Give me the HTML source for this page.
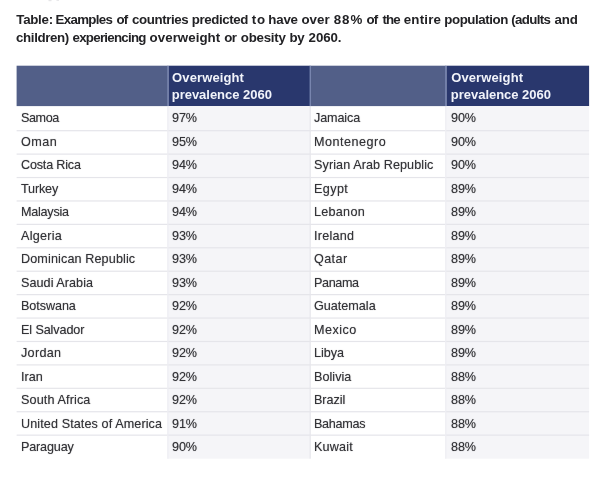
<!DOCTYPE html><html><head><meta charset="utf-8"><title>Table</title><style>
html,body{margin:0;padding:0;background:#fff;}
body{width:614px;height:489px;position:relative;overflow:hidden;font-family:"Liberation Sans",sans-serif;color:#333337;}
svg.bg{position:absolute;left:0;top:0;}
.t{position:absolute;white-space:nowrap;line-height:1;transform-origin:0 0;}
.title{font-weight:bold;font-size:13.3px;color:#222225;}
.h{font-weight:bold;font-size:13.0px;color:#f1f3fa;}
.c{font-size:13.5px;color:#333337;text-shadow:0 0 1px rgba(51,51,55,.55);transform:scaleX(0.934);}
</style></head><body>
<svg class="bg" width="614" height="489" viewBox="0 0 614 489"><rect x="16.60" y="65.70" width="152.10" height="40.40" fill="#525f88"/><rect x="168.70" y="65.70" width="141.50" height="40.40" fill="#29376d"/><rect x="310.20" y="65.70" width="136.40" height="40.40" fill="#525f88"/><rect x="446.60" y="65.70" width="142.50" height="40.40" fill="#29376d"/><rect x="167.30" y="106.10" width="142.90" height="352.58" fill="#f5f5f8"/><rect x="445.20" y="106.10" width="143.90" height="352.58" fill="#f5f5f8"/><rect x="16.60" y="130.10" width="572.50" height="1.20" fill="#e5e5ea"/><rect x="16.60" y="153.52" width="572.50" height="1.20" fill="#e5e5ea"/><rect x="16.60" y="176.94" width="572.50" height="1.20" fill="#e5e5ea"/><rect x="16.60" y="200.36" width="572.50" height="1.20" fill="#e5e5ea"/><rect x="16.60" y="223.78" width="572.50" height="1.20" fill="#e5e5ea"/><rect x="16.60" y="247.20" width="572.50" height="1.20" fill="#e5e5ea"/><rect x="16.60" y="270.62" width="572.50" height="1.20" fill="#e5e5ea"/><rect x="16.60" y="294.04" width="572.50" height="1.20" fill="#e5e5ea"/><rect x="16.60" y="317.46" width="572.50" height="1.20" fill="#e5e5ea"/><rect x="16.60" y="340.88" width="572.50" height="1.20" fill="#e5e5ea"/><rect x="16.60" y="364.30" width="572.50" height="1.20" fill="#e5e5ea"/><rect x="16.60" y="387.72" width="572.50" height="1.20" fill="#e5e5ea"/><rect x="16.60" y="411.14" width="572.50" height="1.20" fill="#e5e5ea"/><rect x="16.60" y="434.56" width="572.50" height="1.20" fill="#e5e5ea"/><rect x="309.60" y="106.10" width="1.20" height="352.58" fill="#e6e6ec"/><rect x="167.30" y="106.10" width="1.20" height="352.58" fill="#eeeef3"/><rect x="445.20" y="106.10" width="1.20" height="352.58" fill="#eeeef3"/><rect x="167.30" y="65.70" width="1.20" height="40.40" fill="#7c89b4"/><rect x="309.60" y="65.70" width="1.20" height="40.40" fill="#7c89b4"/><rect x="445.20" y="65.70" width="1.20" height="40.40" fill="#7c89b4"/><rect x="48.50" y="0.00" width="3.00" height="1.20" fill="#e6e6e8"/><rect x="56.50" y="0.00" width="2.50" height="1.00" fill="#e9e9eb"/></svg>
<div class="line"><span class="t title" style="left:16.30px;top:13.15px;letter-spacing:-0.280px">Table:</span> <span class="t title" style="left:55.57px;top:13.15px;letter-spacing:-0.676px">Examples</span> <span class="t title" style="left:116.50px;top:13.15px;letter-spacing:-0.800px">of</span> <span class="t title" style="left:132.00px;top:13.15px;letter-spacing:-0.392px">countries</span> <span class="t title" style="left:191.87px;top:13.15px;letter-spacing:-0.421px">predicted</span> <span class="t title" style="left:251.83px;top:13.15px;letter-spacing:0.767px">to</span> <span class="t title" style="left:268.27px;top:13.15px;letter-spacing:-0.200px">have</span> <span class="t title" style="left:301.50px;top:13.15px;letter-spacing:0.000px">over</span> <span class="t title" style="left:333.67px;top:13.15px;letter-spacing:1.000px">88%</span> <span class="t title" style="left:366.50px;top:13.15px;letter-spacing:-0.800px">of</span> <span class="t title" style="left:382.43px;top:13.15px;letter-spacing:-0.800px">the</span> <span class="t title" style="left:403.70px;top:13.15px;letter-spacing:0.213px">entire</span> <span class="t title" style="left:444.27px;top:13.15px;letter-spacing:-0.437px">population</span> <span class="t title" style="left:511.33px;top:13.15px;letter-spacing:-0.683px">(adults</span> <span class="t title" style="left:554.57px;top:13.15px;letter-spacing:-0.150px">and</span></div>
<div class="line"><span class="t title" style="left:16.10px;top:30.75px;letter-spacing:-0.388px">children)</span> <span class="t title" style="left:72.50px;top:30.75px;letter-spacing:-0.733px">experiencing</span> <span class="t title" style="left:149.60px;top:30.75px;letter-spacing:0.048px">overweight</span> <span class="t title" style="left:224.20px;top:30.75px;letter-spacing:-0.567px">or</span> <span class="t title" style="left:240.80px;top:30.75px;letter-spacing:-0.250px">obesity</span> <span class="t title" style="left:289.47px;top:30.75px;letter-spacing:-0.400px">by</span> <span class="t title" style="left:308.57px;top:30.75px;letter-spacing:-0.067px">2060.</span></div>
<div class="thead"><span class="t h" style="left:172.10px;top:70.90px;letter-spacing:0.115px">Overweight</span> <span class="t h" style="left:171.77px;top:87.60px;letter-spacing:-0.026px">prevalence 2060</span> <span class="t h" style="left:451.20px;top:70.90px;letter-spacing:0.115px">Overweight</span> <span class="t h" style="left:450.87px;top:87.60px;letter-spacing:-0.026px">prevalence 2060</span></div>
<div class="row"><span class="t c" style="left:20.50px;top:111.30px;letter-spacing:-0.430px">Samoa</span> <span class="t c v" style="left:172.40px;top:111.30px;letter-spacing:-0.134px">97%</span> <span class="t c" style="left:314.20px;top:111.30px;letter-spacing:-0.127px">Jamaica</span> <span class="t c v" style="left:451.20px;top:111.30px;letter-spacing:-0.134px">90%</span></div>
<div class="row"><span class="t c" style="left:20.50px;top:134.78px;letter-spacing:0.527px">Oman</span> <span class="t c v" style="left:172.40px;top:134.78px;letter-spacing:-0.134px">95%</span> <span class="t c" style="left:314.20px;top:134.78px;letter-spacing:0.538px">Montenegro</span> <span class="t c v" style="left:451.20px;top:134.78px;letter-spacing:-0.134px">90%</span></div>
<div class="row"><span class="t c" style="left:20.50px;top:158.26px;letter-spacing:-0.207px">Costa Rica</span> <span class="t c v" style="left:172.40px;top:158.26px;letter-spacing:-0.134px">94%</span> <span class="t c" style="left:314.20px;top:158.26px;letter-spacing:0.092px">Syrian Arab Republic</span> <span class="t c v" style="left:451.20px;top:158.26px;letter-spacing:-0.134px">90%</span></div>
<div class="row"><span class="t c" style="left:20.50px;top:181.74px;letter-spacing:-0.189px">Turkey</span> <span class="t c v" style="left:172.40px;top:181.74px;letter-spacing:-0.134px">94%</span> <span class="t c" style="left:314.20px;top:181.74px;letter-spacing:0.422px">Egypt</span> <span class="t c v" style="left:451.20px;top:181.74px;letter-spacing:-0.134px">89%</span></div>
<div class="row"><span class="t c" style="left:20.50px;top:205.22px;letter-spacing:-0.262px">Malaysia</span> <span class="t c v" style="left:172.40px;top:205.22px;letter-spacing:-0.134px">94%</span> <span class="t c" style="left:314.20px;top:205.22px;letter-spacing:0.283px">Lebanon</span> <span class="t c v" style="left:451.20px;top:205.22px;letter-spacing:-0.134px">89%</span></div>
<div class="row"><span class="t c" style="left:20.50px;top:228.70px;letter-spacing:0.263px">Algeria</span> <span class="t c v" style="left:172.40px;top:228.70px;letter-spacing:-0.134px">93%</span> <span class="t c" style="left:314.20px;top:228.70px;letter-spacing:0.281px">Ireland</span> <span class="t c v" style="left:451.20px;top:228.70px;letter-spacing:-0.134px">89%</span></div>
<div class="row"><span class="t c" style="left:20.50px;top:252.18px;letter-spacing:0.128px">Dominican Republic</span> <span class="t c v" style="left:172.40px;top:252.18px;letter-spacing:-0.134px">93%</span> <span class="t c" style="left:314.20px;top:252.18px;letter-spacing:0.416px">Qatar</span> <span class="t c v" style="left:451.20px;top:252.18px;letter-spacing:-0.134px">89%</span></div>
<div class="row"><span class="t c" style="left:20.50px;top:275.66px;letter-spacing:0.048px">Saudi Arabia</span> <span class="t c v" style="left:172.40px;top:275.66px;letter-spacing:-0.134px">93%</span> <span class="t c" style="left:314.20px;top:275.66px;letter-spacing:-0.409px">Panama</span> <span class="t c v" style="left:451.20px;top:275.66px;letter-spacing:-0.134px">89%</span></div>
<div class="row"><span class="t c" style="left:20.50px;top:299.14px;letter-spacing:-0.079px">Botswana</span> <span class="t c v" style="left:172.40px;top:299.14px;letter-spacing:-0.134px">92%</span> <span class="t c" style="left:314.20px;top:299.14px;letter-spacing:0.000px">Guatemala</span> <span class="t c v" style="left:451.20px;top:299.14px;letter-spacing:-0.134px">89%</span></div>
<div class="row"><span class="t c" style="left:20.50px;top:322.62px;letter-spacing:-0.117px">El Salvador</span> <span class="t c v" style="left:172.40px;top:322.62px;letter-spacing:-0.134px">92%</span> <span class="t c" style="left:314.20px;top:322.62px;letter-spacing:0.475px">Mexico</span> <span class="t c v" style="left:451.20px;top:322.62px;letter-spacing:-0.134px">89%</span></div>
<div class="row"><span class="t c" style="left:20.50px;top:346.10px;letter-spacing:0.337px">Jordan</span> <span class="t c v" style="left:172.40px;top:346.10px;letter-spacing:-0.134px">92%</span> <span class="t c" style="left:314.20px;top:346.10px;letter-spacing:-0.027px">Libya</span> <span class="t c v" style="left:451.20px;top:346.10px;letter-spacing:-0.134px">89%</span></div>
<div class="row"><span class="t c" style="left:20.50px;top:369.58px;letter-spacing:-0.005px">Iran</span> <span class="t c v" style="left:172.40px;top:369.58px;letter-spacing:-0.134px">92%</span> <span class="t c" style="left:314.20px;top:369.58px;letter-spacing:0.035px">Bolivia</span> <span class="t c v" style="left:451.20px;top:369.58px;letter-spacing:-0.134px">88%</span></div>
<div class="row"><span class="t c" style="left:20.50px;top:393.06px;letter-spacing:0.134px">South Africa</span> <span class="t c v" style="left:172.40px;top:393.06px;letter-spacing:-0.134px">92%</span> <span class="t c" style="left:314.20px;top:393.06px;letter-spacing:-0.048px">Brazil</span> <span class="t c v" style="left:451.20px;top:393.06px;letter-spacing:-0.134px">88%</span></div>
<div class="row"><span class="t c" style="left:20.50px;top:416.54px;letter-spacing:0.105px">United States of America</span> <span class="t c v" style="left:172.40px;top:416.54px;letter-spacing:-0.134px">91%</span> <span class="t c" style="left:314.20px;top:416.54px;letter-spacing:-0.308px">Bahamas</span> <span class="t c v" style="left:451.20px;top:416.54px;letter-spacing:-0.134px">88%</span></div>
<div class="row"><span class="t c" style="left:20.50px;top:440.02px;letter-spacing:-0.178px">Paraguay</span> <span class="t c v" style="left:172.40px;top:440.02px;letter-spacing:-0.134px">90%</span> <span class="t c" style="left:314.20px;top:440.02px;letter-spacing:0.187px">Kuwait</span> <span class="t c v" style="left:451.20px;top:440.02px;letter-spacing:-0.134px">88%</span></div>
</body></html>
